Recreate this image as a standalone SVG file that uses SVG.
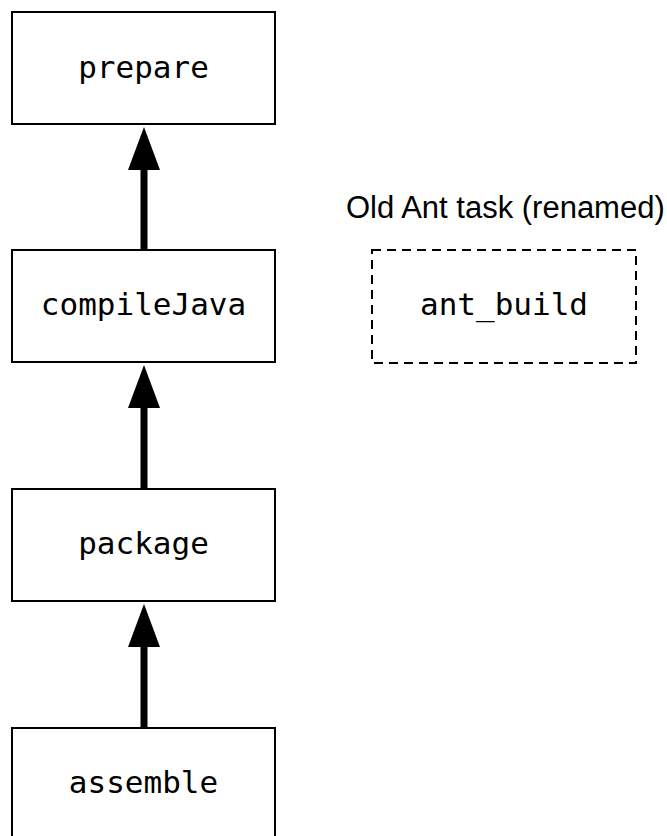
<svg xmlns="http://www.w3.org/2000/svg" width="667" height="836" viewBox="0 0 667 836">
<style>
.box{fill:#fff;stroke:#000;stroke-width:2}
.dash{fill:#fff;stroke:#000;stroke-width:2;stroke-dasharray:9 6}
.mono{font-family:"DejaVu Sans Mono","Liberation Mono",monospace;font-size:31px;fill:#000;text-anchor:middle}
.lbl{font-family:"Liberation Sans",Arial,sans-serif;font-size:31px;fill:#000}
.line{stroke:#000;stroke-width:7;stroke-linecap:round;fill:none}
</style>
<rect width="667" height="836" fill="#fff"/>
<g id="connectors">
<line class="line" x1="144" y1="253" x2="144" y2="165"/>
<polygon points="144,127 160,170 128,170" fill="#000"/>
<line class="line" x1="144" y1="492" x2="144" y2="403"/>
<polygon points="144,365 160,408 128,408" fill="#000"/>
<line class="line" x1="144" y1="731" x2="144" y2="642"/>
<polygon points="144,604 160,647 128,647" fill="#000"/>
</g>
<g id="prepare">
<rect class="box" x="12" y="12" width="263" height="112"/>
<text class="mono" x="143.5" y="78">prepare</text>
</g>
<g id="compileJava">
<rect class="box" x="12" y="250" width="263" height="112"/>
<text class="mono" x="143.5" y="315">compileJava</text>
</g>
<g id="package">
<rect class="box" x="12" y="489" width="263" height="112"/>
<text class="mono" x="143.5" y="554">package</text>
</g>
<g id="assemble">
<rect class="box" x="12" y="728" width="263" height="112"/>
<text class="mono" x="143.5" y="793">assemble</text>
</g>
<g id="ant_build">
<text class="lbl" x="346" y="218">Old Ant task (renamed)</text>
<rect class="dash" x="372" y="250" width="264" height="113"/>
<text class="mono" x="504" y="315">ant_build</text>
</g>
</svg>
